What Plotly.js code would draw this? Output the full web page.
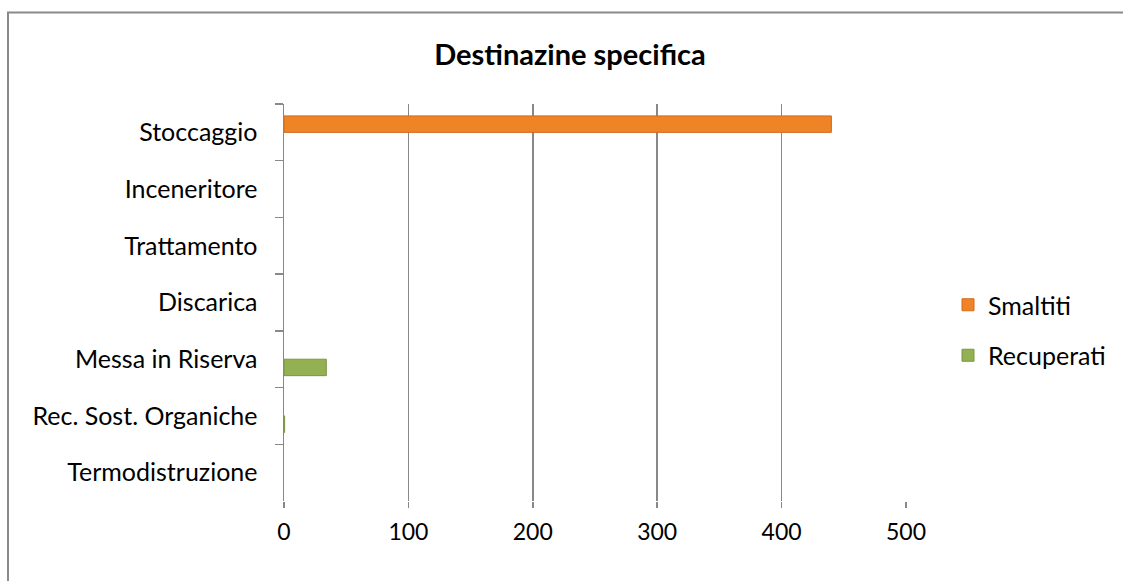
<!DOCTYPE html>
<html>
<head>
<meta charset="utf-8">
<script src="https://cdn.plot.ly/plotly-3.0.1.min.js"></script>
<style>
  html, body { margin: 0; padding: 0; background: #ffffff; }
  #chart { width: 1123px; height: 581px; }
</style>
</head>
<body>
<div id="chart"></div>
<script>
// Destinations of waste, disposed vs. recovered quantities
const categories = [
  "Stoccaggio",
  "Inceneritore",
  "Trattamento",
  "Discarica",
  "Messa in Riserva",
  "Rec. Sost. Organiche",
  "Termodistruzione"
];
// empty destinations are left as null so no bar is drawn
const smaltiti   = [440, null, null, null, null, null, null];
const recuperati = [null, null, null, null, 34, 0.5, null];
const xTicks = [0, 100, 200, 300, 400, 500];

const W = 1123, H = 581;
const M = { l: 284, r: 217, t: 104, b: 80 };
const plotW = W - M.l - M.r, plotH = H - M.t - M.b;
// convert pixel position to paper coordinates (legend and outer frame)
const px = x => (x - M.l) / plotW;
const py = y => (H - M.b - y) / plotH;

const gridColor = "#888888";
const font = "Lato, 'Open Sans', sans-serif";

const traces = [
  {
    type: "bar", orientation: "h", name: "Smaltiti",
    y: categories, x: smaltiti,
    marker: { color: "#EE8426", line: { color: "#D2681B", width: 1 } },
    legendgroup: "a", hoverinfo: "x+y"
  },
  {
    type: "bar", orientation: "h", name: "Recuperati",
    y: categories, x: recuperati,
    marker: { color: "#93B152", line: { color: "#7A9642", width: 1 } },
    legendgroup: "b", hoverinfo: "x+y"
  }
];

const layout = {
  width: W, height: H,
  margin: M,
  paper_bgcolor: "#ffffff",
  plot_bgcolor: "#ffffff",
  font: { family: font, size: 25, color: "#000000" },
  barmode: "group",
  bargap: 0.42,
  bargroupgap: 0,
  title: {
    text: "<b>Destinazine specifica</b>",
    font: { family: font, size: 29, color: "#000000" },
    xref: "container", x: 570 / W, xanchor: "center",
    yref: "container", y: 1 - 55 / H, yanchor: "middle"
  },
  xaxis: {
    range: [0, 500],
    tickvals: xTicks,
    ticktext: xTicks.map(String),
    showgrid: true, gridcolor: gridColor, gridwidth: 1.5,
    zeroline: false, showline: false,
    ticks: "outside", ticklen: 6, tickwidth: 1.5, tickcolor: gridColor,
    ticklabelstandoff: 4,
    tickfont: { family: font, size: 23, color: "#000000" },
    fixedrange: true
  },
  yaxis: {
    type: "category",
    categoryorder: "array", categoryarray: categories,
    autorange: "reversed",
    showgrid: false, zeroline: false,
    showline: true, linecolor: gridColor, linewidth: 1.5,
    ticks: "outside", tickson: "boundaries", ticklen: 8, tickwidth: 1.5, tickcolor: gridColor,
    ticklabelstandoff: 20,
    tickfont: { family: font, size: 25, color: "#000000" },
    fixedrange: true
  },
  legend: {
    x: px(948), xanchor: "left",
    y: py(282), yanchor: "top",
    traceorder: "grouped",
    tracegroupgap: 15,
    font: { family: font, size: 25, color: "#000000" },
    itemwidth: 30,
    bgcolor: "rgba(0,0,0,0)"
  },
  shapes: [
    {
      type: "rect", xref: "paper", yref: "paper",
      x0: px(8), x1: px(1140), y0: py(600), y1: py(12.5),
      line: { color: "#8a8a8a", width: 2 },
      fillcolor: "rgba(0,0,0,0)", layer: "below"
    }
  ],
  showlegend: true
};

Plotly.newPlot("chart", traces, layout, { displayModeBar: false, staticPlot: true });
</script>
</body>
</html>
